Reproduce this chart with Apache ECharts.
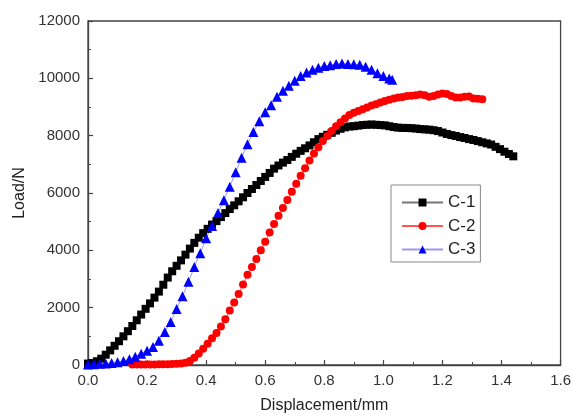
<!DOCTYPE html>
<html>
<head>
<meta charset="utf-8">
<script src="https://cdn.jsdelivr.net/npm/echarts@6/dist/echarts.min.js"></script>
<style>html,body{margin:0;padding:0;background:#fff}#chart{width:574px;height:419px}</style>
</head>
<body>
<div id="chart"></div>
<script>
const seriesNames = ['C-1', 'C-2', 'C-3'];
const xTicks = [0, 0.2, 0.4, 0.6, 0.8, 1.0, 1.2, 1.4, 1.6];
const yTicks = [0, 2000, 4000, 6000, 8000, 10000, 12000];

const c1X = [0.000,0.015,0.030,0.045,0.060,0.075,0.090,0.105,0.120,0.135,0.150,0.165,0.180,0.195,0.210,0.225,0.240,0.255,0.270,0.285,0.300,0.315,0.330,0.345,0.360,0.375,0.390,0.405,0.420,0.435,0.450,0.465,0.480,0.495,0.510,0.525,0.540,0.555,0.570,0.585,0.600,0.615,0.630,0.645,0.660,0.675,0.690,0.705,0.720,0.735,0.750,0.765,0.780,0.795,0.810,0.825,0.840,0.855,0.870,0.885,0.900,0.915,0.930,0.945,0.960,0.975,0.990,1.005,1.020,1.035,1.050,1.065,1.080,1.095,1.110,1.125,1.140,1.155,1.170,1.185,1.200,1.215,1.230,1.245,1.260,1.275,1.290,1.305,1.320,1.335,1.350,1.365,1.380,1.395,1.410,1.425,1.440];
const c1Y = [50,70,130,220,360,510,670,830,1000,1180,1360,1560,1760,1960,2150,2350,2560,2800,3050,3270,3460,3650,3850,4060,4260,4440,4600,4750,4900,5020,5160,5300,5440,5570,5710,5850,6000,6140,6280,6420,6560,6700,6850,6960,7060,7150,7260,7370,7470,7560,7660,7770,7880,7960,8030,8100,8180,8240,8290,8320,8330,8350,8370,8380,8390,8380,8370,8360,8330,8300,8280,8270,8270,8260,8250,8230,8220,8210,8190,8160,8110,8060,8020,7990,7950,7920,7880,7850,7810,7770,7730,7690,7610,7530,7440,7360,7280];

const c2X = [0.150,0.165,0.180,0.195,0.210,0.225,0.240,0.255,0.270,0.285,0.300,0.315,0.330,0.345,0.360,0.375,0.390,0.405,0.420,0.435,0.450,0.465,0.480,0.495,0.510,0.525,0.540,0.555,0.570,0.585,0.600,0.615,0.630,0.645,0.660,0.675,0.690,0.705,0.720,0.735,0.750,0.765,0.780,0.795,0.810,0.825,0.840,0.855,0.870,0.885,0.900,0.915,0.930,0.945,0.960,0.975,0.990,1.005,1.020,1.035,1.050,1.065,1.080,1.095,1.110,1.125,1.140,1.155,1.170,1.185,1.200,1.215,1.230,1.245,1.260,1.275,1.290,1.305,1.320,1.335];
const c2Y = [20,20,20,20,20,20,25,25,30,35,40,50,80,140,250,400,570,740,930,1120,1340,1600,1900,2180,2480,2810,3150,3420,3700,4000,4300,4620,4920,5210,5480,5760,6040,6320,6600,6860,7130,7380,7600,7810,7990,8160,8330,8470,8600,8720,8800,8860,8920,8980,9050,9100,9160,9210,9250,9300,9330,9350,9380,9390,9410,9440,9410,9360,9380,9440,9470,9450,9380,9330,9330,9360,9370,9300,9290,9270];

const c3X = [0.00,0.02,0.04,0.06,0.08,0.10,0.12,0.14,0.16,0.18,0.20,0.22,0.24,0.26,0.28,0.30,0.32,0.34,0.36,0.38,0.40,0.42,0.44,0.46,0.48,0.50,0.52,0.54,0.56,0.58,0.60,0.62,0.64,0.66,0.68,0.70,0.72,0.74,0.76,0.78,0.80,0.82,0.84,0.86,0.88,0.90,0.92,0.94,0.96,0.98,1.00,1.02,1.03];
const c3Y = [20,30,40,50,70,100,140,200,290,390,500,630,850,1150,1500,1950,2400,2900,3420,3900,4420,4850,5300,5750,6220,6720,7230,7700,8130,8500,8820,9060,9360,9570,9740,9920,10080,10200,10300,10370,10430,10460,10500,10520,10500,10490,10470,10400,10300,10180,10080,9990,9950];

function pairs(xs, ys) { return xs.map((x, i) => [x, ys[i]]); }

const font = '"Liberation Sans", Arial, sans-serif';
const chart = echarts.init(document.getElementById('chart'), null, {renderer: 'canvas'});

const axisCommon = {
  type: 'value',
  axisLine: {show: true, lineStyle: {color: '#444', width: 1.3}},
  axisTick: {show: true, inside: true, length: 5, lineStyle: {color: '#444', width: 1.2}},
  minorTick: {show: true, splitNumber: 2, length: 3, lineStyle: {color: '#444', width: 1}},
  splitLine: {show: false},
  axisLabel: {color: '#333', fontSize: 15, fontFamily: font},
  nameLocation: 'middle',
  nameTextStyle: {color: '#222', fontSize: 16, fontFamily: font}
};

chart.setOption({
  animation: false,
  backgroundColor: '#fff',
  grid: {left: 88, right: 11, top: 21, bottom: 53, show: true, borderColor: '#444', borderWidth: 1.3},
  xAxis: Object.assign({}, axisCommon, {
    min: xTicks[0], max: xTicks[xTicks.length - 1], interval: 0.2,
    name: 'Displacement/mm', nameGap: 33,
    axisLabel: Object.assign({}, axisCommon.axisLabel, {margin: 8, formatter: v => v.toFixed(1)})
  }),
  yAxis: Object.assign({}, axisCommon, {
    min: yTicks[0], max: yTicks[yTicks.length - 1], interval: 2000,
    name: 'Load/N', nameGap: 56,
    axisLabel: Object.assign({}, axisCommon.axisLabel, {margin: 8, formatter: v => String(v)})
  }),
  legend: {
    orient: 'vertical', left: 391, top: 185,
    data: seriesNames,
    itemWidth: 41, itemHeight: 10, itemGap: 6.5,
    padding: [9, 5, 4, 10],
    borderColor: '#888', borderWidth: 1, borderRadius: 0,
    textStyle: {fontSize: 17, fontFamily: font, color: '#222', lineHeight: 16}
  },
  series: [
    {name: seriesNames[0], type: 'line', data: pairs(c1X, c1Y), symbol: 'rect', symbolSize: 8,
     itemStyle: {color: '#000'}, lineStyle: {color: '#777', width: 1}},
    {name: seriesNames[1], type: 'line', data: pairs(c2X, c2Y), symbol: 'circle', symbolSize: 8,
     itemStyle: {color: '#ff0000'}, lineStyle: {color: '#ff5555', width: 1}},
    {name: seriesNames[2], type: 'line', data: pairs(c3X, c3Y), symbol: 'triangle', symbolSize: 10,
     itemStyle: {color: '#0000ff'}, lineStyle: {color: '#9999ee', width: 1}}
  ]
});
</script>
</body>
</html>
